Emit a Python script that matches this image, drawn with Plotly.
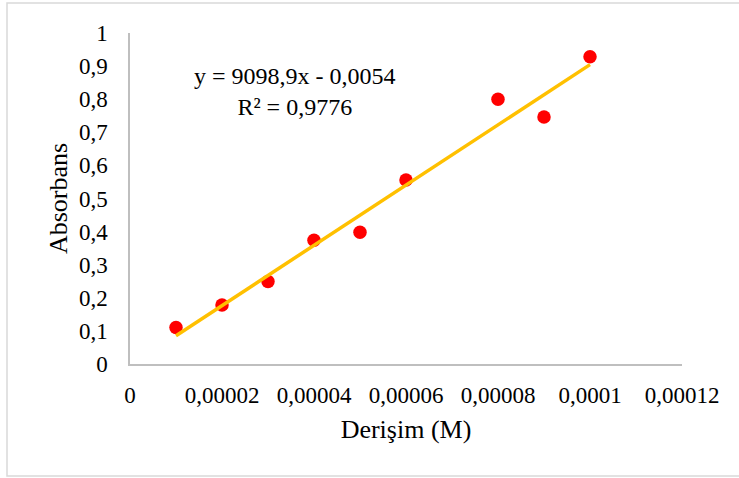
import plotly.graph_objects as go

# Data
concentration = [0.00001, 0.00002, 0.00003, 0.00004, 0.00005, 0.00006, 0.00008, 0.00009, 0.0001]
absorbance = [0.11, 0.178, 0.249, 0.374, 0.398, 0.556, 0.80, 0.746, 0.928]
slope = 9098.9
intercept = -0.0054
equation_text = "y = 9098,9x - 0,0054<br>R² = 0,9776"
x_title = "Derişim (M)"
y_title = "Absorbans"

trend_x = [min(concentration), max(concentration)]
trend_y = [slope * v + intercept for v in trend_x]

FONT = "Liberation Serif, Times New Roman, serif"

fig = go.Figure()
fig.add_trace(go.Scatter(
    x=concentration, y=absorbance, mode="markers",
    marker=dict(color="#FF0000", size=13.5, line=dict(width=0)),
    showlegend=False, hoverinfo="x+y",
))
fig.add_trace(go.Scatter(
    x=trend_x, y=trend_y, mode="lines",
    line=dict(color="#FFC000", width=3.5),
    showlegend=False,
))

axis_common = dict(
    showgrid=False, zeroline=False, showline=True,
    linecolor="#BFBFBF", linewidth=1.5, ticks="",
    tickfont=dict(family=FONT, size=23, color="#000000"),
)

fig.update_layout(
    width=739, height=478,
    margin=dict(l=130, r=57, t=33, b=114),
    paper_bgcolor="white", plot_bgcolor="white",
    separators=", ",
    font=dict(family=FONT, color="#000000"),
    xaxis=dict(
        range=[0, 0.00012], dtick=0.00002, tick0=0, tickformat="~f",
        ticklabelstandoff=10,
        title=dict(text=x_title, font=dict(family=FONT, size=26), standoff=12),
        **axis_common,
    ),
    yaxis=dict(
        range=[0, 1], dtick=0.1, tick0=0, tickformat="~f",
        ticklabelstandoff=16,
        title=dict(text=y_title, font=dict(family=FONT, size=26), standoff=4),
        **axis_common,
    ),
    annotations=[dict(
        text=equation_text, xref="paper", yref="paper",
        x=0.299, y=0.822, xanchor="center", yanchor="middle",
        showarrow=False, align="center",
        font=dict(family=FONT, size=24, color="#000000"),
    )],
    shapes=[dict(
        type="rect", xref="paper", yref="paper",
        x0=-123 / 552, x1=610 / 552, y0=-112 / 331, y1=361 / 331,
        line=dict(color="#D9D9D9", width=1.5), fillcolor="rgba(0,0,0,0)",
        layer="below",
    )],
)

fig.write_html(
    "out.html",
    config={"displayModeBar": False},
    post_script="document.body.style.margin='0';document.body.style.overflow='hidden';",
)
